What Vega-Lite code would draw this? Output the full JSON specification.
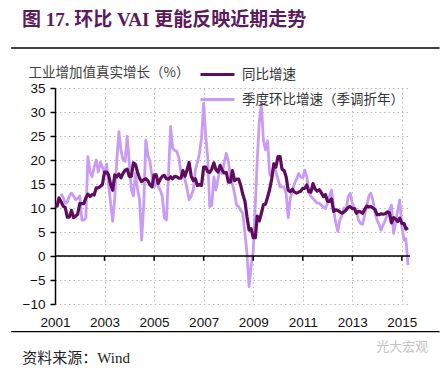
{
  "$schema": "https://vega.github.io/schema/vega-lite/v6.json",
  "width": 355,
  "height": 216,
  "autosize": {"type": "none"},
  "padding": {"left": 55, "top": 88, "right": 34, "bottom": 64},
  "background": "white",
  "config": {"view": {"stroke": null}, "font": "Liberation Sans"},
  "title": {
    "text": "图 17. 环比 VAI 更能反映近期走势",
    "anchor": "start",
    "frame": "group",
    "dx": -33,
    "offset": 17,
    "fontSize": 19,
    "font": "Liberation Serif, Noto Sans CJK SC",
    "fontWeight": 600,
    "color": "#5c1b5c"
  },
  "datasets": {
    "yoy": [
      {"t":"2001-01-01","v":10.5},{"t":"2001-02-01","v":10.4},{"t":"2001-03-01","v":12.1},{"t":"2001-04-01","v":11.3},{"t":"2001-05-01","v":10.4},{"t":"2001-06-01","v":10.1},{"t":"2001-07-01","v":8.1},{"t":"2001-08-01","v":8.1},{"t":"2001-09-01","v":9.5},{"t":"2001-10-01","v":8.0},{"t":"2001-11-01","v":8.3},{"t":"2001-12-01","v":8.7},
      {"t":"2002-01-01","v":10.9},{"t":"2002-02-01","v":10.9},{"t":"2002-03-01","v":10.9},{"t":"2002-04-01","v":12.1},{"t":"2002-05-01","v":12.9},{"t":"2002-06-01","v":12.4},{"t":"2002-07-01","v":12.8},{"t":"2002-08-01","v":12.7},{"t":"2002-09-01","v":14.2},{"t":"2002-10-01","v":14.2},{"t":"2002-11-01","v":14.5},{"t":"2002-12-01","v":14.9},
      {"t":"2003-01-01","v":17.5},{"t":"2003-02-01","v":17.5},{"t":"2003-03-01","v":16.9},{"t":"2003-04-01","v":14.9},{"t":"2003-05-01","v":13.7},{"t":"2003-06-01","v":16.9},{"t":"2003-07-01","v":16.5},{"t":"2003-08-01","v":17.1},{"t":"2003-09-01","v":16.3},{"t":"2003-10-01","v":17.2},{"t":"2003-11-01","v":17.9},{"t":"2003-12-01","v":18.1},
      {"t":"2004-01-01","v":16.6},{"t":"2004-02-01","v":16.6},{"t":"2004-03-01","v":19.4},{"t":"2004-04-01","v":19.1},{"t":"2004-05-01","v":17.5},{"t":"2004-06-01","v":16.2},{"t":"2004-07-01","v":15.5},{"t":"2004-08-01","v":15.9},{"t":"2004-09-01","v":16.1},{"t":"2004-10-01","v":15.7},{"t":"2004-11-01","v":14.8},{"t":"2004-12-01","v":14.4},
      {"t":"2005-01-01","v":16.9},{"t":"2005-02-01","v":16.9},{"t":"2005-03-01","v":15.1},{"t":"2005-04-01","v":16.0},{"t":"2005-05-01","v":16.6},{"t":"2005-06-01","v":16.8},{"t":"2005-07-01","v":16.1},{"t":"2005-08-01","v":16.0},{"t":"2005-09-01","v":16.5},{"t":"2005-10-01","v":16.1},{"t":"2005-11-01","v":16.6},{"t":"2005-12-01","v":16.5},
      {"t":"2006-01-01","v":16.2},{"t":"2006-02-01","v":16.2},{"t":"2006-03-01","v":17.8},{"t":"2006-04-01","v":16.6},{"t":"2006-05-01","v":17.9},{"t":"2006-06-01","v":19.5},{"t":"2006-07-01","v":16.7},{"t":"2006-08-01","v":15.7},{"t":"2006-09-01","v":16.1},{"t":"2006-10-01","v":14.7},{"t":"2006-11-01","v":14.9},{"t":"2006-12-01","v":14.7},
      {"t":"2007-01-01","v":18.5},{"t":"2007-02-01","v":18.5},{"t":"2007-03-01","v":17.6},{"t":"2007-04-01","v":17.4},{"t":"2007-05-01","v":18.1},{"t":"2007-06-01","v":19.4},{"t":"2007-07-01","v":18.0},{"t":"2007-08-01","v":17.5},{"t":"2007-09-01","v":18.9},{"t":"2007-10-01","v":17.9},{"t":"2007-11-01","v":17.3},{"t":"2007-12-01","v":17.4},
      {"t":"2008-01-01","v":15.4},{"t":"2008-02-01","v":15.4},{"t":"2008-03-01","v":17.8},{"t":"2008-04-01","v":15.7},{"t":"2008-05-01","v":16.0},{"t":"2008-06-01","v":16.0},{"t":"2008-07-01","v":14.7},{"t":"2008-08-01","v":12.8},{"t":"2008-09-01","v":11.4},{"t":"2008-10-01","v":8.2},{"t":"2008-11-01","v":5.4},{"t":"2008-12-01","v":5.7},
      {"t":"2009-01-01","v":3.8},{"t":"2009-02-01","v":3.8},{"t":"2009-03-01","v":8.3},{"t":"2009-04-01","v":7.3},{"t":"2009-05-01","v":8.9},{"t":"2009-06-01","v":10.7},{"t":"2009-07-01","v":10.8},{"t":"2009-08-01","v":12.3},{"t":"2009-09-01","v":13.9},{"t":"2009-10-01","v":16.1},{"t":"2009-11-01","v":19.2},{"t":"2009-12-01","v":18.5},
      {"t":"2010-01-01","v":20.7},{"t":"2010-02-01","v":20.7},{"t":"2010-03-01","v":18.1},{"t":"2010-04-01","v":17.8},{"t":"2010-05-01","v":16.5},{"t":"2010-06-01","v":13.7},{"t":"2010-07-01","v":13.4},{"t":"2010-08-01","v":13.9},{"t":"2010-09-01","v":13.3},{"t":"2010-10-01","v":13.1},{"t":"2010-11-01","v":13.3},{"t":"2010-12-01","v":13.5},
      {"t":"2011-01-01","v":14.1},{"t":"2011-02-01","v":14.1},{"t":"2011-03-01","v":14.8},{"t":"2011-04-01","v":13.4},{"t":"2011-05-01","v":13.3},{"t":"2011-06-01","v":15.1},{"t":"2011-07-01","v":14.0},{"t":"2011-08-01","v":13.5},{"t":"2011-09-01","v":13.8},{"t":"2011-10-01","v":13.2},{"t":"2011-11-01","v":12.4},{"t":"2011-12-01","v":12.8},
      {"t":"2012-01-01","v":11.4},{"t":"2012-02-01","v":11.4},{"t":"2012-03-01","v":11.9},{"t":"2012-04-01","v":9.3},{"t":"2012-05-01","v":9.6},{"t":"2012-06-01","v":9.5},{"t":"2012-07-01","v":9.2},{"t":"2012-08-01","v":8.9},{"t":"2012-09-01","v":9.2},{"t":"2012-10-01","v":9.6},{"t":"2012-11-01","v":10.1},{"t":"2012-12-01","v":10.3},
      {"t":"2013-01-01","v":9.9},{"t":"2013-02-01","v":9.9},{"t":"2013-03-01","v":8.9},{"t":"2013-04-01","v":9.3},{"t":"2013-05-01","v":9.2},{"t":"2013-06-01","v":8.9},{"t":"2013-07-01","v":9.7},{"t":"2013-08-01","v":10.4},{"t":"2013-09-01","v":10.2},{"t":"2013-10-01","v":10.3},{"t":"2013-11-01","v":10.0},{"t":"2013-12-01","v":9.7},
      {"t":"2014-01-01","v":8.6},{"t":"2014-02-01","v":8.6},{"t":"2014-03-01","v":8.8},{"t":"2014-04-01","v":8.7},{"t":"2014-05-01","v":8.8},{"t":"2014-06-01","v":9.2},{"t":"2014-07-01","v":9.0},{"t":"2014-08-01","v":6.9},{"t":"2014-09-01","v":8.0},{"t":"2014-10-01","v":7.7},{"t":"2014-11-01","v":7.2},{"t":"2014-12-01","v":7.9},
      {"t":"2015-01-01","v":6.8},{"t":"2015-02-01","v":6.8},{"t":"2015-03-01","v":5.6},{"t":"2015-04-01","v":5.9}
    ],
    "qoq": [
      {"t":"2001-04-01","v":13.0},{"t":"2001-05-01","v":12.2},{"t":"2001-06-01","v":11.0},{"t":"2001-07-01","v":11.2},{"t":"2001-08-01","v":12.5},{"t":"2001-09-01","v":13.1},{"t":"2001-10-01","v":12.5},{"t":"2001-11-01","v":11.7},{"t":"2001-12-01","v":12.0},
      {"t":"2002-01-01","v":12.5},{"t":"2002-02-01","v":7.5},{"t":"2002-03-01","v":7.5},{"t":"2002-04-01","v":8.0},{"t":"2002-05-01","v":20.7},{"t":"2002-06-01","v":17.5},{"t":"2002-07-01","v":16.5},{"t":"2002-08-01","v":18.5},{"t":"2002-09-01","v":20.0},{"t":"2002-10-01","v":17.5},{"t":"2002-11-01","v":19.5},{"t":"2002-12-01","v":18.5},
      {"t":"2003-01-01","v":17.3},{"t":"2003-02-01","v":19.2},{"t":"2003-03-01","v":15.0},{"t":"2003-04-01","v":11.0},{"t":"2003-05-01","v":7.2},{"t":"2003-06-01","v":12.0},{"t":"2003-07-01","v":20.0},{"t":"2003-08-01","v":25.9},{"t":"2003-09-01","v":22.0},{"t":"2003-10-01","v":20.0},{"t":"2003-11-01","v":19.7},{"t":"2003-12-01","v":24.9},
      {"t":"2004-01-01","v":19.4},{"t":"2004-02-01","v":13.75},{"t":"2004-03-01","v":12.5},{"t":"2004-04-01","v":17.2},{"t":"2004-05-01","v":14.0},{"t":"2004-06-01","v":11.7},{"t":"2004-07-01","v":3.3},{"t":"2004-08-01","v":10.6},{"t":"2004-09-01","v":24.2},{"t":"2004-10-01","v":21.0},{"t":"2004-11-01","v":19.7},{"t":"2004-12-01","v":16.5},
      {"t":"2005-01-01","v":14.4},{"t":"2005-02-01","v":15.5},{"t":"2005-03-01","v":14.5},{"t":"2005-04-01","v":13.75},{"t":"2005-05-01","v":12.5},{"t":"2005-06-01","v":8.0},{"t":"2005-07-01","v":7.5},{"t":"2005-08-01","v":17.0},{"t":"2005-09-01","v":27.0},{"t":"2005-10-01","v":22.5},{"t":"2005-11-01","v":22.0},{"t":"2005-12-01","v":21.8},
      {"t":"2006-01-01","v":20.5},{"t":"2006-02-01","v":17.2},{"t":"2006-03-01","v":17.2},{"t":"2006-04-01","v":16.0},{"t":"2006-05-01","v":14.0},{"t":"2006-06-01","v":11.7},{"t":"2006-07-01","v":12.5},{"t":"2006-08-01","v":13.75},{"t":"2006-09-01","v":17.9},{"t":"2006-10-01","v":19.5},{"t":"2006-11-01","v":21.4},{"t":"2006-12-01","v":24.5},
      {"t":"2007-01-01","v":31.8},{"t":"2007-02-01","v":25.0},{"t":"2007-03-01","v":20.7},{"t":"2007-04-01","v":10.3},{"t":"2007-05-01","v":10.6},{"t":"2007-06-01","v":16.5},{"t":"2007-07-01","v":13.75},{"t":"2007-08-01","v":16.0},{"t":"2007-09-01","v":18.3},{"t":"2007-10-01","v":17.2},{"t":"2007-11-01","v":19.5},{"t":"2007-12-01","v":21.4},
      {"t":"2008-01-01","v":19.7},{"t":"2008-02-01","v":16.5},{"t":"2008-03-01","v":15.0},{"t":"2008-04-01","v":13.0},{"t":"2008-05-01","v":10.6},{"t":"2008-06-01","v":10.3},{"t":"2008-07-01","v":9.5},{"t":"2008-08-01","v":8.9},{"t":"2008-09-01","v":4.7},{"t":"2008-10-01","v":0.5},{"t":"2008-11-01","v":-6.4},{"t":"2008-12-01","v":-2.0},
      {"t":"2009-01-01","v":1.0},{"t":"2009-02-01","v":10.6},{"t":"2009-03-01","v":20.0},{"t":"2009-04-01","v":28.0},{"t":"2009-05-01","v":31.8},{"t":"2009-06-01","v":24.0},{"t":"2009-07-01","v":22.1},{"t":"2009-08-01","v":24.0},{"t":"2009-09-01","v":17.0},{"t":"2009-10-01","v":16.5},{"t":"2009-11-01","v":19.3},{"t":"2009-12-01","v":17.5},
      {"t":"2010-01-01","v":16.0},{"t":"2010-02-01","v":14.4},{"t":"2010-03-01","v":14.4},{"t":"2010-04-01","v":14.4},{"t":"2010-05-01","v":13.0},{"t":"2010-06-01","v":8.0},{"t":"2010-07-01","v":12.0},{"t":"2010-08-01","v":13.5},{"t":"2010-09-01","v":15.1},{"t":"2010-10-01","v":16.0},{"t":"2010-11-01","v":17.2},{"t":"2010-12-01","v":16.5},
      {"t":"2011-01-01","v":16.3},{"t":"2011-02-01","v":17.9},{"t":"2011-03-01","v":16.5},{"t":"2011-04-01","v":13.5},{"t":"2011-05-01","v":12.4},{"t":"2011-06-01","v":12.0},{"t":"2011-07-01","v":11.5},{"t":"2011-08-01","v":11.0},{"t":"2011-09-01","v":11.0},{"t":"2011-10-01","v":10.6},{"t":"2011-11-01","v":10.2},{"t":"2011-12-01","v":9.9},
      {"t":"2012-01-01","v":11.0},{"t":"2012-02-01","v":12.5},{"t":"2012-03-01","v":13.75},{"t":"2012-04-01","v":9.6},{"t":"2012-05-01","v":7.0},{"t":"2012-06-01","v":5.1},{"t":"2012-07-01","v":7.5},{"t":"2012-08-01","v":8.5},{"t":"2012-09-01","v":10.0},{"t":"2012-10-01","v":9.5},{"t":"2012-11-01","v":12.4},{"t":"2012-12-01","v":13.1},
      {"t":"2013-01-01","v":11.0},{"t":"2013-02-01","v":10.0},{"t":"2013-03-01","v":9.6},{"t":"2013-04-01","v":7.5},{"t":"2013-05-01","v":6.8},{"t":"2013-06-01","v":6.6},{"t":"2013-07-01","v":8.5},{"t":"2013-08-01","v":10.3},{"t":"2013-09-01","v":12.5},{"t":"2013-10-01","v":13.1},{"t":"2013-11-01","v":11.5},{"t":"2013-12-01","v":9.0},
      {"t":"2014-01-01","v":7.5},{"t":"2014-02-01","v":6.5},{"t":"2014-03-01","v":5.4},{"t":"2014-04-01","v":6.5},{"t":"2014-05-01","v":7.5},{"t":"2014-06-01","v":8.5},{"t":"2014-07-01","v":9.5},{"t":"2014-08-01","v":10.6},{"t":"2014-09-01","v":4.7},{"t":"2014-10-01","v":7.0},{"t":"2014-11-01","v":9.5},{"t":"2014-12-01","v":11.7},
      {"t":"2015-01-01","v":6.1},{"t":"2015-02-01","v":3.3},{"t":"2015-03-01","v":3.6},{"t":"2015-04-01","v":-1.9}
    ],
    "ticks": [
      {"t":"2003-01-01"},{"t":"2005-01-01"},{"t":"2007-01-01"},{"t":"2009-01-01"},{"t":"2011-01-01"},{"t":"2013-01-01"},{"t":"2015-01-01"}
    ],
    "notes": [
      {"note": "资料来源：Wind"}
    ],
    "mark": [
      {"note": "光大宏观"}
    ],
    "frame": [
      {"part": "rule"}
    ]
  },
  "layer": [
    {
      "data": {"name": "qoq"},
      "mark": {"type": "line", "strokeWidth": 2.8, "strokeJoin": "round"},
      "encoding": {
        "x": {
          "field": "t", "type": "temporal",
          "scale": {"type": "utc", "domain": [{"year": 2001, "month": 1, "date": 1, "utc": true}, {"year": 2015, "month": 5, "date": 1, "utc": true}], "nice": false},
          "axis": {
            "title": null,
            "values": [{"year": 2001, "utc": true}, {"year": 2003, "utc": true}, {"year": 2005, "utc": true}, {"year": 2007, "utc": true}, {"year": 2009, "utc": true}, {"year": 2011, "utc": true}, {"year": 2013, "utc": true}, {"year": 2015, "utc": true}],
            "format": "%Y", "formatType": "utc",
            "domain": false, "ticks": false,
            "labelPadding": 11, "labelFontSize": 13.5, "labelColor": "#111", "labelFont": "Liberation Sans",
            "labelFlush": false, "labelOverlap": false,
            "grid": true, "gridColor": "#b8b8b8", "gridDash": [1.5, 3], "gridWidth": 1
          }
        },
        "y": {
          "field": "v", "type": "quantitative",
          "scale": {"domain": [-10, 35], "nice": false, "zero": false},
          "axis": {
            "title": "工业增加值真实增长（%）",
            "titleAngle": 0, "titleAlign": "left", "titleBaseline": "middle",
            "titleX": -27, "titleY": -16,
            "titleFont": "Noto Sans CJK SC", "titleFontSize": 13.5, "titleFontWeight": "normal", "titleColor": "#404040",
            "values": [-10, -5, 0, 5, 10, 15, 20, 25, 30, 35],
            "tickCount": 10,
            "labelOverlap": false, "labelFlush": false,
            "domainColor": "black", "domainWidth": 1.5,
            "tickColor": "black", "tickWidth": 1.5, "tickSize": 5,
            "labelPadding": 5, "labelFontSize": 13.5, "labelColor": "#111", "labelFont": "Liberation Sans",
            "grid": true, "gridColor": "#b8b8b8", "gridDash": [1.5, 3], "gridWidth": 1
          }
        },
        "color": {
          "datum": "季度环比增速（季调折年）",
          "scale": {"domain": ["同比增速", "季度环比增速（季调折年）"], "range": ["#5e0c5e", "#c89cf4"]},
          "legend": {
            "orient": "none", "legendX": 144, "legendY": -32, "direction": "vertical",
            "title": null, "symbolType": "stroke", "symbolSize": 1156, "symbolStrokeWidth": 3,
            "labelFont": "Noto Sans CJK SC", "labelFontSize": 13.5, "labelColor": "#333", "labelLimit": 400,
            "rowPadding": -16, "labelOffset": 6, "padding": 0
          }
        }
      }
    },
    {
      "data": {"name": "yoy"},
      "mark": {"type": "line", "strokeWidth": 3.2, "strokeJoin": "round"},
      "encoding": {
        "x": {"field": "t", "type": "temporal"},
        "y": {"field": "v", "type": "quantitative"},
        "color": {"datum": "同比增速"}
      }
    },
    {
      "data": {"name": "frame"},
      "mark": {"type": "rule", "color": "black", "strokeWidth": 1.5},
      "encoding": {"y": {"datum": 0}}
    },
    {
      "data": {"name": "ticks"},
      "mark": {"type": "rule", "color": "black", "strokeWidth": 1.5},
      "encoding": {
        "x": {"field": "t", "type": "temporal"},
        "y": {"datum": 0},
        "y2": {"datum": -1}
      }
    },
    {
      "data": {"name": "frame"},
      "mark": {"type": "rule", "color": "black", "strokeWidth": 1.3, "clip": false},
      "encoding": {
        "x": {"datum": 922492800000, "type": "temporal"},
        "x2": {"datum": 1468108800000},
        "y": {"datum": 43.33}
      }
    },
    {
      "data": {"name": "frame"},
      "mark": {"type": "rule", "color": "black", "strokeWidth": 1.3, "clip": false},
      "encoding": {
        "x": {"datum": 922492800000, "type": "temporal"},
        "x2": {"datum": 1468108800000},
        "y": {"datum": -15.77}
      }
    },
    {
      "data": {"name": "notes"},
      "mark": {"type": "text", "align": "left", "baseline": "middle", "font": "Liberation Serif, Noto Sans CJK SC", "fontSize": 15, "color": "#222", "clip": false},
      "encoding": {
        "x": {"datum": 936489600000, "type": "temporal"},
        "y": {"datum": -21.25},
        "text": {"field": "note"}
      }
    },
    {
      "data": {"name": "mark"},
      "mark": {"type": "text", "align": "left", "baseline": "middle", "font": "Noto Sans CJK SC", "fontSize": 13, "color": "#c4c4c4", "clip": false},
      "encoding": {
        "x": {"datum": 1387411200000, "type": "temporal"},
        "y": {"datum": -18.96},
        "text": {"field": "note"}
      }
    }
  ]
}
